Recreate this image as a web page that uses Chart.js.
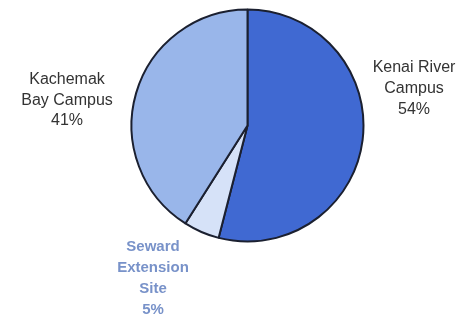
<!DOCTYPE html>
<html>
<head>
<meta charset="utf-8">
<script src="https://cdn.jsdelivr.net/npm/chart.js@4"></script>
<style>
    html, body { margin: 0; padding: 0; background: #fff; }
    #chart { display: block; }
</style>
</head>
<body>
<canvas id="chart" width="464" height="318"></canvas>
<script>
// campus share of enrolment
const campuses = ["Kenai River Campus", "Seward Extension Site", "Kachemak Bay Campus"];
const shares = [54, 5, 41];
const sliceColors = ["#4069d2", "#d6e2f8", "#99b6ea"];

// label text, one line per entry
const labelLines = [
    ["Kenai River", "Campus", "54%"],
    ["Seward", "Extension", "Site", "5%"],
    ["Kachemak", "Bay Campus", "41%"]
];

const outsideLabels = {
    id: "outsideLabels",
    afterDraw(chart) {
        const ctx = chart.ctx;
        const spots = [
            { x: 414, y: 68, step: 21, color: "#333333", font: "16px 'Liberation Sans', Arial, sans-serif" },
            { x: 153, y: 247, step: 21, color: "#7892c9", font: "bold 15px 'Liberation Sans', Arial, sans-serif" },
            { x: 67, y: 80, step: 20.5, color: "#333333", font: "16px 'Liberation Sans', Arial, sans-serif" }
        ];
        ctx.save();
        ctx.textAlign = "center";
        ctx.textBaseline = "middle";
        labelLines.forEach((lines, i) => {
            const s = spots[i];
            ctx.fillStyle = s.color;
            ctx.font = s.font;
            lines.forEach((line, j) => {
                ctx.fillText(line, s.x, s.y + j * s.step);
            });
        });
        ctx.restore();
    }
};

const chart = new Chart(document.getElementById("chart"), {
    type: "pie",
    data: {
        labels: campuses,
        datasets: [{
            data: shares,
            backgroundColor: sliceColors,
            borderColor: "#1b2030",
            borderWidth: 2
        }]
    },
    options: {
        responsive: false,
        animation: false,
        radius: 116,
        layout: {
            padding: { left: 130, right: 99, top: 8, bottom: 75 }
        },
        plugins: {
            legend: { display: false },
            tooltip: { enabled: false }
        }
    },
    plugins: [outsideLabels]
});
</script>
</body>
</html>
